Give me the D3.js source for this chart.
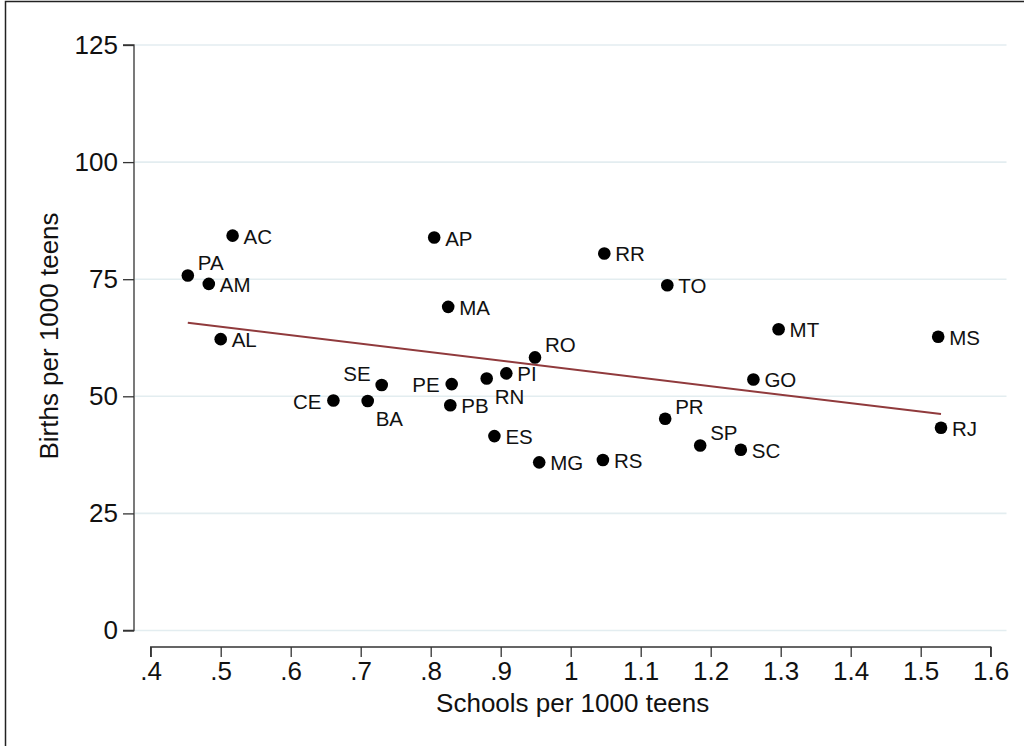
<!DOCTYPE html>
<html>
<head>
<meta charset="utf-8">
<script src="https://cdn.jsdelivr.net/npm/d3@7"></script>
<style>
  body { margin: 0; background: #fff; }
  svg { display: block; font-family: "Liberation Sans", Arial, sans-serif; }
</style>
</head>
<body>
<div id="chart-container"></div>
<script>
const width = 1024;
const height = 746;

// states and values
const states = ["AC", "PA", "AM", "AL", "AP", "MA", "SE", "CE", "BA", "PE", "PB",
  "RR", "TO", "RO", "RN", "PI", "ES", "MG", "RS", "PR", "SP", "SC", "GO", "MT", "MS", "RJ"];
const schools = [0.517, 0.453, 0.483, 0.500, 0.805, 0.825, 0.730, 0.661, 0.710, 0.830, 0.828,
  1.048, 1.138, 0.949, 0.880, 0.908, 0.891, 0.955, 1.046, 1.135, 1.185, 1.243, 1.261, 1.297, 1.525, 1.529];
const births = [84.3, 75.8, 74.0, 62.2, 83.9, 69.1, 52.4, 49.1, 49.0, 52.6, 48.1,
  80.5, 73.7, 58.3, 53.8, 54.9, 41.5, 35.9, 36.4, 45.2, 39.5, 38.6, 53.6, 64.3, 62.7, 43.3];
// label clock positions
const labelPos = [3, 1, 3, 3, 3, 3, 11, 9, 5, 9, 3,
  3, 3, 1, 5, 3, 3, 3, 3, 1, 1, 3, 3, 3, 3, 3];

// fitted line end points
const fitX = [0.453, 1.529];
const fitY = [65.7, 46.2];

const yTicks = [0, 25, 50, 75, 100, 125];
const xTicks = [0.4, 0.5, 0.6, 0.7, 0.8, 0.9, 1.0, 1.1, 1.2, 1.3, 1.4, 1.5, 1.6];
const xTickLabels = [".4", ".5", ".6", ".7", ".8", ".9", "1", "1.1", "1.2", "1.3", "1.4", "1.5", "1.6"];

const data = states.map((s, i) => ({ state: s, x: schools[i], y: births[i], pos: labelPos[i] }));

const x = d3.scaleLinear().domain([0.4, 1.6]).range([150.7, 990.7]);
const y = d3.scaleLinear().domain([0, 125]).range([630.5, 45]);

const svg = d3.select("#chart-container").append("svg")
  .attr("width", width)
  .attr("height", height);

// outer frame
svg.append("rect")
  .attr("x", 5.5).attr("y", 1.5)
  .attr("width", 1040).attr("height", 780)
  .attr("fill", "none").attr("stroke", "#222").attr("stroke-width", 1.5);

// gridlines
svg.append("g").selectAll("line")
  .data(yTicks)
  .enter().append("line")
  .attr("x1", 135).attr("x2", 1006.5)
  .attr("y1", d => y(d)).attr("y2", d => y(d))
  .attr("stroke", "#e3edf0").attr("stroke-width", 1.6);

// y axis
const yAxis = d3.axisLeft(y).tickValues(yTicks).tickSize(11).tickPadding(5);
svg.append("g")
  .attr("transform", "translate(134,0)")
  .call(yAxis)
  .call(g => g.select(".domain").attr("d", `M-11,${y(125)}H0V${y(0)}H-11`))
  .call(g => g.selectAll("path, line").attr("stroke", "#333").attr("stroke-width", 1.3))
  .call(g => g.selectAll("text").attr("font-size", 26).attr("fill", "#111")
    .attr("font-family", "Liberation Sans, Arial, sans-serif"));

// x axis
const xAxis = d3.axisBottom(x).tickValues(xTicks).tickSize(10).tickPadding(5)
  .tickFormat((d, i) => xTickLabels[i]);
svg.append("g")
  .attr("transform", "translate(0,647)")
  .call(xAxis)
  .call(g => g.select(".domain").attr("d", `M${x(0.4)},10V0H${x(1.6)}V10`))
  .call(g => g.selectAll("path, line").attr("stroke", "#333").attr("stroke-width", 1.3))
  .call(g => g.selectAll("text").attr("font-size", 26).attr("fill", "#111")
    .attr("font-family", "Liberation Sans, Arial, sans-serif"));

// axis titles
svg.append("text")
  .attr("x", x(1.0) + 2).attr("y", 711.5)
  .attr("text-anchor", "middle")
  .attr("font-size", 26).attr("fill", "#111")
  .text("Schools per 1000 teens");

svg.append("text")
  .attr("transform", `translate(58,336) rotate(-90)`)
  .attr("text-anchor", "middle")
  .attr("font-size", 26).attr("fill", "#111")
  .text("Births per 1000 teens");

// fit line
svg.append("line")
  .attr("x1", x(fitX[0])).attr("y1", y(fitY[0]))
  .attr("x2", x(fitX[1])).attr("y2", y(fitY[1]))
  .attr("stroke", "#903a3c").attr("stroke-width", 2);

// points
svg.append("g").selectAll("circle")
  .data(data)
  .enter().append("circle")
  .attr("cx", d => x(d.x))
  .attr("cy", d => y(d.y))
  .attr("r", 6.3)
  .attr("fill", "#000");

// labels by clock position
const offsets = {
  3: { dx: 11, dy: 8, anchor: "start" },
  1: { dx: 10, dy: -5, anchor: "start" },
  11: { dx: -11, dy: -4, anchor: "end" },
  9: { dx: -12, dy: 8, anchor: "end" },
  5: { dx: 8, dy: 25, anchor: "start" }
};

svg.append("g").selectAll("text")
  .data(data)
  .enter().append("text")
  .attr("x", d => x(d.x) + offsets[d.pos].dx)
  .attr("y", d => y(d.y) + offsets[d.pos].dy)
  .attr("text-anchor", d => offsets[d.pos].anchor)
  .attr("font-size", 20.5)
  .attr("fill", "#111")
  .text(d => d.state);
</script>
</body>
</html>
